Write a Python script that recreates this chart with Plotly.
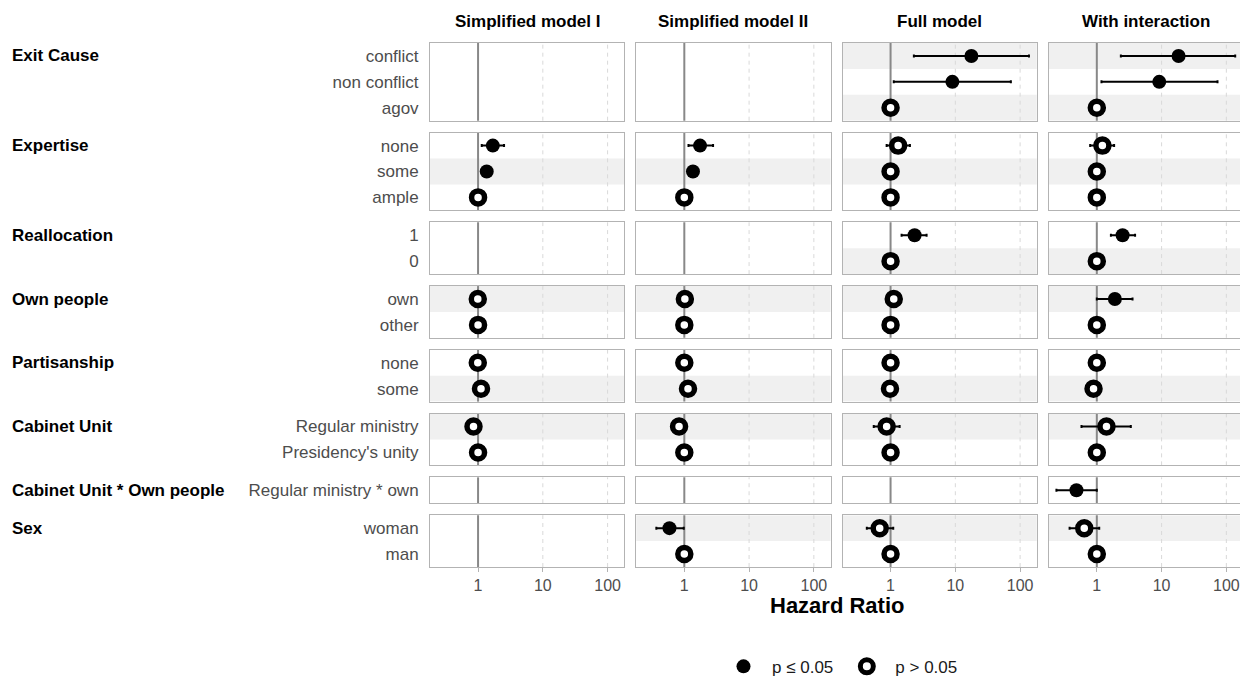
import plotly.graph_objects as go
from plotly.subplots import make_subplots

# ---------------- data ----------------
models = ["Simplified model I", "Simplified model II", "Full model", "With interaction"]
groups = ["Exit Cause", "Expertise", "Reallocation", "Own people", "Partisanship",
          "Cabinet Unit", "Cabinet Unit * Own people", "Sex"]
levels = [["conflict", "non conflict", "agov"],
          ["none", "some", "ample"],
          ["1", "0"],
          ["own", "other"],
          ["none", "some"],
          ["Regular ministry", "Presidency's unity"],
          ["Regular ministry * own"],
          ["woman", "man"]]
stripes = [[1, 0, 1], [0, 1, 0], [0, 1], [1, 0], [0, 1], [1, 0], [0], [1, 0]]

# flattened rows: conflict, non conflict, agov | none, some, ample | 1, 0 | own, other |
# none, some | Regular, Presidency | Reg*own | woman, man
hr_m1 = [None, None, None, 1.69, 1.36, 1.0, None, None, 0.99, 1.0, 0.99, 1.11, 0.85, 1.0, None, None, None]
lo_m1 = [None, None, None, 1.14, 1.16, None, None, None, None, None, None, None, None, None, None, None, None]
hi_m1 = [None, None, None, 2.52, 1.58, None, None, None, None, None, None, None, None, None, None, None, None]
sig_m1 = [0, 0, 0, 1, 1, 0, 0, 0, 0, 0, 0, 0, 0, 0, 0, 0, 0]

hr_m2 = [None, None, None, 1.75, 1.36, 1.0, None, None, 1.02, 1.0, 1.0, 1.14, 0.83, 1.0, None, 0.59, 1.0]
lo_m2 = [None, None, None, 1.16, 1.16, None, None, None, None, None, None, None, None, None, None, 0.37, None]
hi_m2 = [None, None, None, 2.78, 1.60, None, None, None, None, None, None, None, None, None, None, 0.98, None]
sig_m2 = [0, 0, 0, 1, 1, 0, 0, 0, 0, 0, 0, 0, 0, 0, 0, 1, 0]

hr_m3 = [17.7, 9.0, 1.0, 1.31, 1.0, 1.0, 2.35, 1.0, 1.12, 1.0, 1.0, 0.98, 0.87, 1.0, None, 0.68, 1.0]
lo_m3 = [2.29, 1.12, None, 0.87, None, None, 1.48, None, None, None, None, None, 0.55, None, None, 0.43, None]
hi_m3 = [137, 72, None, 1.99, None, None, 3.6, None, None, None, None, None, 1.38, None, None, 1.10, None]
sig_m3 = [1, 1, 0, 0, 0, 0, 1, 0, 0, 0, 0, 0, 0, 0, 0, 0, 0]

hr_m4 = [18.3, 9.2, 1.0, 1.22, 1.0, 1.0, 2.5, 1.0, 1.9, 1.0, 1.0, 0.89, 1.41, 1.0, 0.485, 0.64, 1.0]
lo_m4 = [2.35, 1.18, None, 0.79, None, None, 1.65, None, 1.0, None, None, None, 0.58, None, 0.238, 0.38, None]
hi_m4 = [137, 73, None, 1.85, None, None, 3.9, None, 3.56, None, None, None, 3.35, None, 1.0, 1.09, None]
sig_m4 = [1, 1, 0, 0, 0, 0, 1, 0, 1, 0, 0, 0, 0, 0, 1, 0, 0]

tick_vals = [1, 10, 100]
tick_text = ["1", "10", "100"]
ref_value = 1
grid_vals = [10, 100]
legend_names = ["\u2002p ≤ 0.05\u2002", "\u2002p > 0.05"]

model_data = [(hr_m1, lo_m1, hi_m1, sig_m1), (hr_m2, lo_m2, hi_m2, sig_m2),
              (hr_m3, lo_m3, hi_m3, sig_m3), (hr_m4, lo_m4, hi_m4, sig_m4)]

# ---------------- layout constants ----------------
OFF = 8  # page body margin
W, H = 1248 - OFF, 682
L, T = 430 - OFF, 43 - OFF
PW, PH = 813, 525
R = W - L - PW
B = 114
FONT = "Liberation Sans, Arial, sans-serif"
BORDER = "#b3b3b3"
STRIPE = "#f0f0f0"


def py(screen_y):
    """paper y for a target screen y"""
    return 1 - (screen_y - OFF - T) / PH


def px(screen_x):
    return (screen_x - OFF - L) / PW


n_levels = [len(l) for l in levels]
fig = make_subplots(rows=len(groups), cols=len(models), row_heights=n_levels,
                    vertical_spacing=12 / PH, horizontal_spacing=12 / PW)

filled_marker = dict(size=14, color="black", line=dict(width=0))
open_marker = dict(size=13, color="white", line=dict(width=5.5, color="black"))

shapes = []
start = 0
for g, levs in enumerate(levels):
    n = len(levs)
    idx = list(range(start, start + n))
    ypos = [n - 1 - j for j in range(n)]
    for c, (hr, lo, hi, sig) in enumerate(model_data):
        k = g * len(models) + c + 1
        sx = "x" if k == 1 else f"x{k}"
        sy = "y" if k == 1 else f"y{k}"
        has = any(hr[i] is not None for i in idx)
        if has:
            for j, yp in enumerate(ypos):
                if stripes[g][j]:
                    shapes.append(dict(type="rect", xref=f"{sx} domain", x0=0, x1=1,
                                       yref=sy, y0=yp - 0.5, y1=yp + 0.5,
                                       fillcolor=STRIPE, line=dict(width=0), layer="below"))
        for gv in grid_vals:
            shapes.append(dict(type="line", xref=sx, x0=gv, x1=gv, yref=f"{sy} domain", y0=0, y1=1,
                               line=dict(color="#d9d9d9", width=1, dash="4px,4px"), layer="below"))
        shapes.append(dict(type="line", xref=sx, x0=ref_value, x1=ref_value, yref=f"{sy} domain",
                           y0=0, y1=1, line=dict(color="#888888", width=2), layer="below"))
        for flag in (0, 1):
            xs, ys, ep, em = [], [], [], []
            for i, yp in zip(idx, ypos):
                if hr[i] is None or sig[i] != flag:
                    continue
                xs.append(hr[i])
                ys.append(yp)
                ep.append(hi[i] - hr[i] if hi[i] is not None else 0)
                em.append(hr[i] - lo[i] if lo[i] is not None else 0)
            if xs:
                fig.add_trace(go.Scatter(
                    x=xs, y=ys, mode="markers", showlegend=False, hoverinfo="skip",
                    marker=filled_marker if flag else open_marker,
                    error_x=dict(type="data", symmetric=False, array=ep, arrayminus=em,
                                 color="black", thickness=2, width=1.5)),
                    row=g + 1, col=c + 1)
        bottom = (g == len(groups) - 1)
        fig.update_xaxes(type="log", range=[-0.742, 2.257], showgrid=False, zeroline=False,
                         showline=True, mirror=True, linecolor=BORDER, linewidth=1,
                         tickvals=tick_vals, ticktext=tick_text,
                         showticklabels=bottom, ticks="outside" if bottom else "",
                         ticklen=4, tickcolor=BORDER,
                         tickfont=dict(size=16, color="#4d4d4d", family=FONT),
                         fixedrange=True, row=g + 1, col=c + 1)
        fig.update_yaxes(range=[-0.5, n - 0.5], showgrid=False, zeroline=False,
                         showline=True, mirror=True, linecolor=BORDER, linewidth=1,
                         tickvals=ypos, ticktext=levs, showticklabels=(c == 0),
                         ticks="outside" if c == 0 else "", ticklen=7,
                         tickcolor="rgba(0,0,0,0)",
                         tickfont=dict(size=17, color="#4d4d4d", family=FONT),
                         fixedrange=True, row=g + 1, col=c + 1)
    start += n

# legend entries
fig.add_trace(go.Scatter(x=[None], y=[None], mode="markers", name=legend_names[0],
                         marker=filled_marker, showlegend=True), row=1, col=1)
fig.add_trace(go.Scatter(x=[None], y=[None], mode="markers", name=legend_names[1],
                         marker=open_marker, showlegend=True), row=1, col=1)

annotations = []
for c, m in enumerate(models):
    ax = "x" if c == 0 else f"x{c + 1}"
    annotations.append(dict(text=f"<b>{m}</b>", xref=f"{ax} domain", x=0.5, xanchor="center",
                            yref="paper", y=py(21), yanchor="middle", showarrow=False,
                            font=dict(size=17, color="black", family=FONT)))
for g, name in enumerate(groups):
    k = g * len(models) + 1
    sy = "y" if k == 1 else f"y{k}"
    annotations.append(dict(text=f"<b>{name}</b>", xref="paper", x=px(10), xanchor="left",
                            yref=sy, y=len(levels[g]) - 1, yanchor="middle", showarrow=False,
                            font=dict(size=17, color="black", family=FONT)))
annotations.append(dict(text="<b>Hazard Ratio</b>", xref="paper", x=0.5, xanchor="center",
                        yref="paper", y=py(607), yanchor="middle", showarrow=False,
                        font=dict(size=22, color="black", family=FONT)))

fig.update_layout(
    width=W, height=H, margin=dict(l=L, r=R, t=T, b=B),
    paper_bgcolor="white", plot_bgcolor="white",
    font=dict(family=FONT, size=17, color="#1a1a1a"),
    shapes=shapes, annotations=annotations,
    legend=dict(orientation="h", x=px(843), xanchor="center",
                y=py(668), yanchor="middle",
                font=dict(size=17, color="#1a1a1a", family=FONT), itemwidth=30),
)

fig.write_html("out.html")
